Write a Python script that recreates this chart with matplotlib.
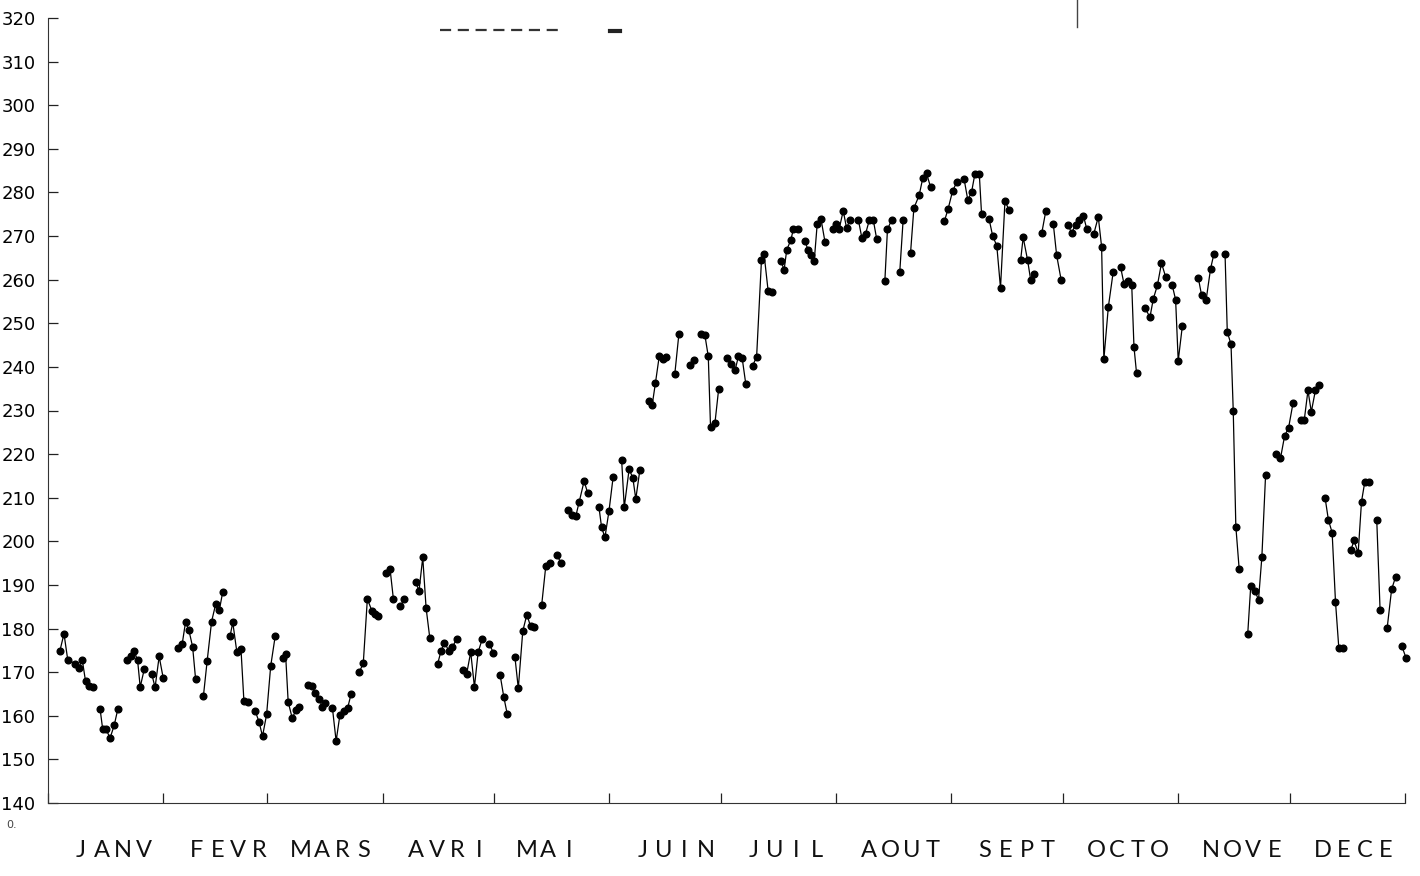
import numpy as np
import matplotlib
matplotlib.use("Agg")
import matplotlib.pyplot as plt
from matplotlib.lines import Line2D

months = ["JANV", "FEVR", "MARS", "AVRI", "MAI", "JUIN",
          "JUIL", "AOUT", "SEPT", "OCTO", "NOVE", "DECE"]
month_start = [0, 31, 59, 90, 120, 151, 181, 212, 243, 273, 304, 334, 365]
yticks = list(range(140, 330, 10))

# day of year of each quote; None breaks the line (no quote that day)
days = [
    3.2, 4.3, 5.3, 7.3, 8.3, 9.2, 10.1, 11.1, 12.0, None,
    14.0, 14.7, 15.6, 16.7, 17.8, 18.8, None,
    21.3, 22.2, 23.2, 24.1, 24.8, 25.9, None,
    27.9, 28.8, 29.9, 31.0, None,
    35.0, 36.1, 37.0, 37.9, 38.9, 39.7, None,
    41.8, 42.8, 44.0, 45.1, 46.1, 47.0, None,
    49.0, 49.7, 50.8, 51.9, 52.7, 53.7, None,
    55.7, 56.8, 57.7, 58.8, 59.9, 61.1, None,
    63.1, 63.9, 64.6, 65.7, 66.7, 67.6, None,
    69.8, 70.9, 71.8, 72.9, 73.8, 74.5, None,
    76.5, 77.5, 78.5, 79.6, 80.6, 81.5, None,
    83.7, 84.8, 85.9, 87.1, 88.0, 88.7, None,
    90.9, 92.0, 92.9, None,
    94.8, 95.8, None,
    98.9, 99.8, 100.8, 101.7, 102.7, None,
    104.8, 105.7, 106.6, 107.9, 108.8, 109.9, None,
    111.7, 112.6, 113.7, 114.7, 115.7, 116.8, None,
    118.7, 119.8, None,
    121.6, 122.6, 123.5, None,
    125.6, 126.5, 127.7, 128.8, 129.8, 130.7, None,
    132.8, 133.9, 135.0, None,
    137.0, 137.9, None,
    139.9, 141.0, 142.0, 142.9, 144.2, 145.2, None,
    148.2, 148.9, 149.8, 150.9, 152.0, None,
    154.3, 155.0, 156.3, 157.3, 158.1, 159.2, None,
    161.6, 162.5, 163.4, 164.4, 165.3, 166.2, None,
    168.6, 169.7, None,
    172.7, 173.7, None,
    175.6, 176.7, 177.6, 178.2, 179.4, 180.4, None,
    182.7, 183.7, 184.8, 185.7, 186.7, 187.7, None,
    189.5, 190.6, 191.9, 192.6, 193.7, 194.8, None,
    197.1, 198.0, 198.7, 199.8, 200.5, 201.8, None,
    203.6, 204.5, 205.2, 206.1, 206.9, 207.9, 209.0, None,
    211.1, 212.0, 212.8, 213.9, 214.8, 215.7, None,
    218.0, 218.9, 219.9, 220.9, 222.0, 222.9, None,
    225.1, 225.8, 226.9, None,
    229.1, 230.0, None,
    232.0, 232.9, 234.3, 235.3, 236.3, 237.4, None,
    241.1, 242.1, 243.3, 244.4, None,
    246.4, 247.4, 248.4, 249.3, 250.5, 251.1, None,
    253.1, 254.1, 255.2, 256.2, 257.4, 258.5, None,
    261.6, 262.3, 263.5, 264.3, 265.2, None,
    267.3, 268.4, None,
    270.4, 271.3, 272.5, None,
    274.4, 275.3, 276.4, 277.4, 278.5, 279.4, None,
    281.3, 282.5, 283.4, 284.0, 285.2, 286.5, None,
    288.5, 289.4, 290.6, 291.5, 292.1, 292.8, None,
    295.0, 296.4, 297.3, 298.4, 299.5, 300.6, None,
    302.4, 303.3, 304.0, 305.1, None,
    309.4, 310.3, 311.5, 312.7, 313.6, None,
    316.6, 317.2, 318.2, 318.8, 319.5, 320.4, None,
    322.7, 323.5, 324.7, 325.6, 326.5, 327.5, None,
    330.4, 331.5, 332.6, 333.7, 334.9, None,
    336.9, 337.9, 338.9, 339.8, 340.9, 341.9, None,
    343.5, 344.4, 345.4, 346.3, 347.2, 348.4, None,
    350.4, 351.3, 352.4, 353.3, 354.2, 355.4, None,
    357.4, 358.3, None,
    360.2, 361.4, 362.5, None,
    364.1, 365.3,
]

quotes = [
    174.9, 178.8, 172.9, 171.9, 171.0, 172.9, 167.9, 166.9, 166.6, None,
    161.6, 157.0, 156.9, 154.9, 157.8, 161.6, None,
    172.9, 173.8, 174.8, 172.7, 166.6, 170.7, None,
    169.6, 166.5, 173.6, 168.6, None,
    175.5, 176.5, 181.5, 179.6, 175.8, 168.4, None,
    164.5, 172.5, 181.6, 185.6, 184.3, 188.4, None,
    178.4, 181.4, 174.6, 175.4, 163.3, 163.2, None,
    161.2, 158.5, 155.3, 160.3, 171.4, 178.2, None,
    173.2, 174.2, 163.2, 159.4, 161.4, 162.0, None,
    167.0, 166.9, 165.2, 163.9, 162.0, 163.0, None,
    161.8, 154.2, 160.1, 161.1, 161.8, 164.9, None,
    170.0, 172.0, 186.8, 184.1, 183.4, 182.8, None,
    192.7, 193.7, 186.8, None,
    185.1, 186.8, None,
    190.6, 188.7, 196.3, 184.7, 177.8, None,
    171.9, 174.8, 176.8, 174.8, 175.8, 177.6, None,
    170.6, 169.6, 174.6, 166.6, 174.6, 177.6, None,
    176.5, 174.4, None,
    169.4, 164.3, 160.5, None,
    173.4, 166.3, 179.4, 183.2, 180.5, 180.3, None,
    185.5, 194.4, 195.1, None,
    196.9, 195.0, None,
    207.2, 206.1, 205.9, 209.1, 213.8, 211.0, None,
    207.8, 203.2, 200.9, 207.0, 214.7, None,
    218.6, 207.8, 216.5, 214.6, 209.7, 216.4, None,
    232.2, 231.2, 236.4, 242.4, 241.9, 242.3, None,
    238.4, 247.6, None,
    240.4, 241.5, None,
    247.6, 247.2, 242.4, 226.3, 227.2, 235.0, None,
    242.1, 240.6, 239.2, 242.4, 242.1, 236.0, None,
    240.2, 242.3, 264.4, 265.9, 257.4, 257.2, None,
    264.3, 262.3, 266.8, 269.1, 271.6, 271.6, None,
    268.8, 266.7, 265.6, 264.3, 272.8, 274.0, 268.6, None,
    271.6, 272.8, 271.6, 275.8, 271.8, 273.7, None,
    273.6, 269.6, 270.5, 273.6, 273.6, 269.3, None,
    259.8, 271.6, 273.6, None,
    261.7, 273.6, None,
    266.1, 276.4, 279.3, 283.3, 284.4, 281.2, None,
    273.4, 276.2, 280.3, 282.3, None,
    283.1, 278.3, 280.0, 284.2, 284.2, 275.1, None,
    274.0, 270.0, 267.8, 258.1, 278.0, 276.0, None,
    264.4, 269.7, 264.4, 260.0, 261.2, None,
    270.7, 275.8, None,
    272.8, 265.6, 260.0, None,
    272.6, 270.7, 272.6, 273.7, 274.7, 271.6, None,
    270.5, 274.4, 267.5, 241.7, 253.7, 261.7, None,
    262.9, 259.1, 259.7, 258.7, 244.6, 238.5, None,
    253.6, 251.4, 255.6, 258.7, 263.8, 260.7, None,
    258.7, 255.4, 241.4, 249.3, None,
    260.4, 256.4, 255.3, 262.5, 265.9, None,
    265.8, 248.0, 245.2, 230.0, 203.4, 193.6, None,
    178.8, 189.7, 188.5, 186.6, 196.4, 215.2, None,
    220.1, 219.0, 224.1, 226.1, 231.8, None,
    227.8, 227.8, 234.6, 229.7, 234.6, 235.8, None,
    210.0, 204.9, 202.0, 186.2, 175.5, 175.5, None,
    197.9, 200.2, 197.3, 209.1, 213.7, 213.7, None,
    204.9, 184.2, None,
    180.1, 189.0, 191.9, None,
    176.1, 173.2,
]

x = np.array([np.nan if d is None else d for d in days])
y = np.array([np.nan if q is None else q for q in quotes])

fig = plt.figure(figsize=(14.2, 8.76), dpi=100)
ax = fig.add_axes([48 / 1420, 1 - 803 / 876, 1357 / 1420, 785 / 876])

ax.plot(x, y, color="black", lw=0.9, marker="o", ms=4.8, clip_on=False)

ax.set_xlim(0, 365)
ax.set_ylim(140, 320)
for s in ["top", "right"]:
    ax.spines[s].set_visible(False)
for s in ["left", "bottom"]:
    ax.spines[s].set_linewidth(0.8)
    ax.spines[s].set_color("#333333")

ax.set_xticks(month_start)
ax.set_xticklabels([])
ax.set_yticks(yticks)
ax.set_yticklabels([str(v) for v in yticks],
                   family=["Liberation Sans Narrow", "DejaVu Sans"], fontsize=13)
ax.tick_params(axis="both", direction="in", length=7, width=0.9, color="#222222")
ax.tick_params(axis="y", pad=9)

# plotter style month names, one letter every few days
for m, name in enumerate(months):
    for i, ch in enumerate(name):
        ax.text(month_start[m] + 8.9 + i * 5.65, -0.06, ch,
                transform=ax.get_xaxis_transform(), ha="center", va="center",
                fontsize=17, family=["Lato", "DejaVu Sans"], fontweight="normal",
                color="#111111")

fig.text(6 / 1420, 1 - 828 / 876, "0.", fontsize=8, color="#444444")

# stray marks of the original print-out
fig.add_artist(Line2D([440 / 1420, 560 / 1420], [1 - 30 / 876] * 2,
                      lw=1.6, ls=(0, (5, 3)), color="#333333"))
fig.add_artist(Line2D([610 / 1420, 620 / 1420], [1 - 31 / 876] * 2,
                      lw=3, color="#222222"))
fig.add_artist(Line2D([1077 / 1420] * 2, [1.0, 1 - 27 / 876],
                      lw=1, color="#444444"))

fig.savefig("out.png", dpi=100, facecolor="white")
